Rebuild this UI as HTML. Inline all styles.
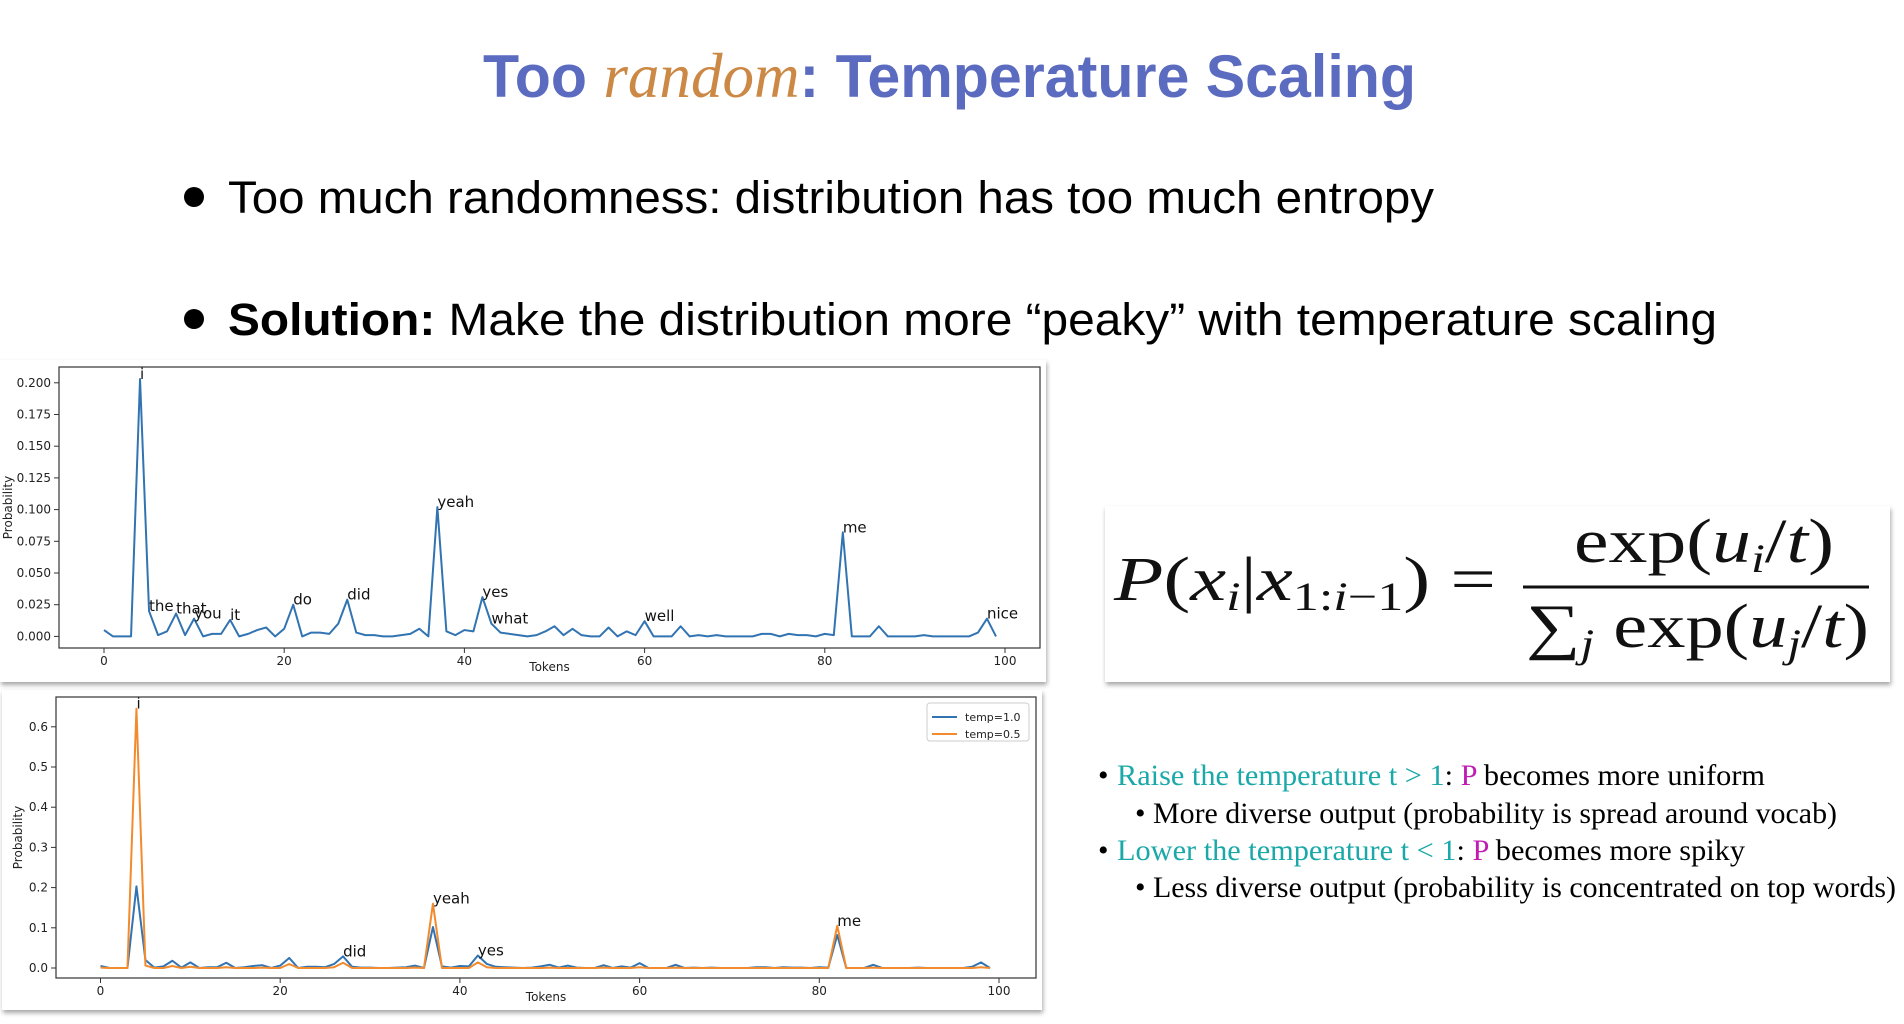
<!DOCTYPE html>
<html><head><meta charset="utf-8">
<style>
html,body{margin:0;padding:0;background:#fff;width:1904px;height:1024px;overflow:hidden}
svg{display:block}
</style></head>
<body>
<svg id="root" width="1904" height="1024" xmlns="http://www.w3.org/2000/svg">
<defs>
<filter id="sh" x="-5%" y="-5%" width="110%" height="115%"><feDropShadow dx="1" dy="3" stdDeviation="2.5" flood-color="#000" flood-opacity="0.35"/></filter>
</defs>
<text x="483" y="97" font-family="Liberation Sans, sans-serif" font-weight="bold" font-size="60" fill="#5b6bc0" textLength="933" lengthAdjust="spacingAndGlyphs">Too <tspan fill="#cc8845" font-family="Liberation Serif, serif" font-style="italic" font-weight="normal" font-size="64">random</tspan>: Temperature Scaling</text>

<circle cx="194" cy="197" r="10" fill="#000"/>
<text x="228" y="213" font-family="Liberation Sans, sans-serif" font-size="45" fill="#000" textLength="1206" lengthAdjust="spacingAndGlyphs">Too much randomness: distribution has too much entropy</text>
<circle cx="194" cy="319" r="10" fill="#000"/>
<text x="228" y="335" font-family="Liberation Sans, sans-serif" font-size="45" fill="#000" textLength="1489" lengthAdjust="spacingAndGlyphs"><tspan font-weight="bold">Solution:</tspan> Make the distribution more “peaky” with temperature scaling</text>

<g>
<rect x="1105" y="506" width="785" height="176" fill="#fff" filter="url(#sh)"/>
<text x="1114" y="600" font-family="Liberation Serif, serif" font-size="62" fill="#111" textLength="382" lengthAdjust="spacingAndGlyphs"><tspan font-style="italic">P</tspan>(<tspan font-style="italic">x<tspan font-size="40" dy="10">i</tspan></tspan><tspan dy="-10">|</tspan><tspan font-style="italic">x</tspan><tspan font-size="40" dy="10">1:<tspan font-style="italic">i</tspan>−1</tspan><tspan dy="-10">) =</tspan></text>
<text x="1574" y="562" font-family="Liberation Serif, serif" font-size="62" fill="#111" textLength="260" lengthAdjust="spacingAndGlyphs">exp(<tspan font-style="italic">u<tspan font-size="40" dy="10">i</tspan></tspan><tspan dy="-10">/<tspan font-style="italic">t</tspan>)</tspan></text>
<line x1="1523" y1="587" x2="1869" y2="587" stroke="#111" stroke-width="3"/>
<text x="1526" y="647" font-family="Liberation Serif, serif" font-size="62" fill="#111" textLength="343" lengthAdjust="spacingAndGlyphs">∑<tspan font-style="italic" font-size="40" dy="10">j</tspan><tspan dy="-10"> exp(</tspan><tspan font-style="italic">u<tspan font-size="40" dy="10">j</tspan></tspan><tspan dy="-10">/<tspan font-style="italic">t</tspan>)</tspan></text>
</g>

<g font-family="Liberation Serif, serif" font-size="30">
<text x="1098" y="785">•</text>
<text x="1117" y="785" textLength="648" lengthAdjust="spacingAndGlyphs"><tspan fill="#1aa8a8">Raise the temperature  t &gt; 1</tspan>: <tspan fill="#c01cb4">P</tspan> becomes more uniform</text>
<text x="1135" y="823">•</text>
<text x="1153" y="823" textLength="684" lengthAdjust="spacingAndGlyphs">More diverse output (probability is spread around vocab)</text>
<text x="1098" y="860">•</text>
<text x="1117" y="860" textLength="628" lengthAdjust="spacingAndGlyphs"><tspan fill="#1aa8a8">Lower the temperature  t &lt; 1</tspan>: <tspan fill="#c01cb4">P</tspan> becomes more spiky</text>
<text x="1135" y="897">•</text>
<text x="1153" y="897" textLength="743" lengthAdjust="spacingAndGlyphs">Less diverse output (probability is concentrated on top words)</text>
</g>

<rect x="0" y="360" width="1046" height="322" fill="#fff" filter="url(#sh)"/>
<rect x="2" y="690" width="1040" height="320" fill="#fff" filter="url(#sh)"/>
<g id="charts"></g>
</svg>
<script>
const tokens = Array.from({length:100},(_,i)=>i);
const probT1 = [0.005,0,0,0,0.203,0.020,0.001,0.004,0.018,0.001,
0.014,0,0.002,0.002,0.013,0,0.002,0.005,0.007,0,
0.006,0.025,0,0.003,0.003,0.002,0.010,0.029,0.003,0.001,
0.001,0,0,0.001,0.002,0.006,0,0.102,0.004,0.001,
0.005,0.004,0.031,0.010,0.003,0.002,0.001,0,0.001,0.004,
0.008,0.001,0.006,0.001,0,0,0.007,0,0.004,0.001,
0.012,0,0,0,0.008,0,0.001,0,0.001,0,
0,0,0,0.002,0.002,0,0.002,0.001,0.001,0,
0.002,0.001,0.082,0,0,0,0.008,0,0,0,
0,0.001,0,0,0,0,0,0.003,0.014,0];
const probT05 = [0.001,0,0,0,0.645,0.006,0,0,0.005,0,
0.003,0,0,0,0.002,0,0,0,0.001,0,
0,0.010,0,0,0,0,0.002,0.013,0,0,
0,0,0,0,0,0.001,0,0.160,0,0,
0,0,0.014,0.002,0,0,0,0,0,0,
0.001,0,0,0,0,0,0.001,0,0,0,
0.002,0,0,0,0.001,0,0,0,0,0,
0,0,0,0,0,0,0,0,0,0,
0,0,0.105,0,0,0,0.001,0,0,0,
0,0,0,0,0,0,0,0,0.002,0];
const topLabels = [[4,"i"],[5,"the"],[8,"that"],[10,"you"],[14,"it"],[21,"do"],[27,"did"],[37,"yeah"],[42,"yes"],[43,"what"],[60,"well"],[82,"me"],[98,"nice"]];
const botLabels = [[4,"i"],[27,"did"],[37,"yeah"],[42,"yes"],[82,"me"]];
const xTicks = [0,20,40,60,80,100];
const topYTicks = [0,0.025,0.05,0.075,0.1,0.125,0.15,0.175,0.2];
const botYTicks = [0,0.1,0.2,0.3,0.4,0.5,0.6];

const NS="http://www.w3.org/2000/svg";
const root=document.getElementById('charts');
function mk(tag,attrs,parent){const e=document.createElementNS(NS,tag);for(const k in attrs)e.setAttribute(k,attrs[k]);(parent||root).appendChild(e);return e;}

function chart(cfg){
  const g=mk('g',{});
  
  
  const xs=v=>cfg.x0+(v-0)*(cfg.x100-cfg.x0)/100;
  const ys=v=>cfg.y0-v*cfg.pxPer;
  xTicks.forEach(t=>{
    mk('line',{x1:xs(t),x2:xs(t),y1:cfg.B,y2:cfg.B+5,stroke:'#333'},g);
    const tx=mk('text',{x:xs(t),y:cfg.B+17,'text-anchor':'middle','font-family':'DejaVu Sans, sans-serif','font-size':12,fill:'#222'},g);
    
    
    tx.textContent=t;
  });
  cfg.yTicks.forEach(t=>{
    mk('line',{x1:cfg.L-5,x2:cfg.L,y1:ys(t),y2:ys(t),stroke:'#333'},g);
    const tx=mk('text',{x:cfg.L-8,y:ys(t)+4,'text-anchor':'end','font-family':'DejaVu Sans, sans-serif','font-size':12,fill:'#222'},g);
    
    
    tx.textContent=cfg.fmt(t);
  });
  const xt=mk('text',{x:(cfg.L+cfg.R)/2,y:cfg.B+23,'text-anchor':'middle','font-family':'DejaVu Sans, sans-serif','font-size':12,fill:'#222'},g);
  
  
  xt.textContent='Tokens';
  const yt=mk('text',{x:0,y:0,transform:`translate(${cfg.ytx},${(cfg.T+cfg.B)/2}) rotate(-90)`,'text-anchor':'middle','font-family':'DejaVu Sans, sans-serif','font-size':12,fill:'#222'},g);
  
  
  yt.textContent='Probability';
  cfg.series.forEach(s=>{
    const p=mk('polyline',{points:tokens.map(i=>xs(i)+','+ys(s.vals[i])).join(' '),fill:'none',stroke:s.color,'stroke-width':2,'stroke-linejoin':'round'},g);
    
    
  });
  cfg.labels.forEach(([i,w])=>{
    const v=Math.max(...cfg.series.map(s=>s.vals[i]));
    const tx=mk('text',{x:xs(i),y:ys(v),'font-family':'DejaVu Sans, sans-serif','font-size':15,fill:'#111'},g);
    
    
    tx.textContent=w;
  });
  const fr=mk('rect',{x:cfg.L,y:cfg.T,width:cfg.R-cfg.L,height:cfg.B-cfg.T,fill:'none',stroke:'#333','stroke-width':1.2},g);
  
  
  return {g,xs,ys};
}
chart({name:'top-chart',L:59,R:1040,T:367,B:648,x0:104,x100:1005,y0:636.4,pxPer:253.6/0.2,yTicks:topYTicks,fmt:t=>t.toFixed(3),ytx:12,
  series:[{name:'line-probability',vals:probT1,color:'#3274b2'}],labels:topLabels});
const bot=chart({name:'bottom-chart',L:56,R:1036,T:697,B:978,x0:100.5,x100:999,y0:968,pxPer:402,yTicks:botYTicks,fmt:t=>t.toFixed(1),ytx:22,
  series:[{name:'line-temp-1.0',vals:probT1,color:'#3274b2'},{name:'line-temp-0.5',vals:probT05,color:'#f28a2e'}],labels:botLabels});
const lg=mk('g',{},bot.g);


mk('rect',{x:927,y:703,width:102,height:38,fill:'#fff',stroke:'#ccc',rx:3},lg);
[['temp=1.0','#3274b2',717],['temp=0.5','#f28a2e',734]].forEach(([t,c,y])=>{
  mk('line',{x1:932,x2:957,y1:y,y2:y,stroke:c,'stroke-width':2},lg);
  const tx=mk('text',{x:965,y:y+4,'font-family':'DejaVu Sans, sans-serif','font-size':11,fill:'#222'},lg);
  
  
  tx.textContent=t;
});
</script>
</body></html>
